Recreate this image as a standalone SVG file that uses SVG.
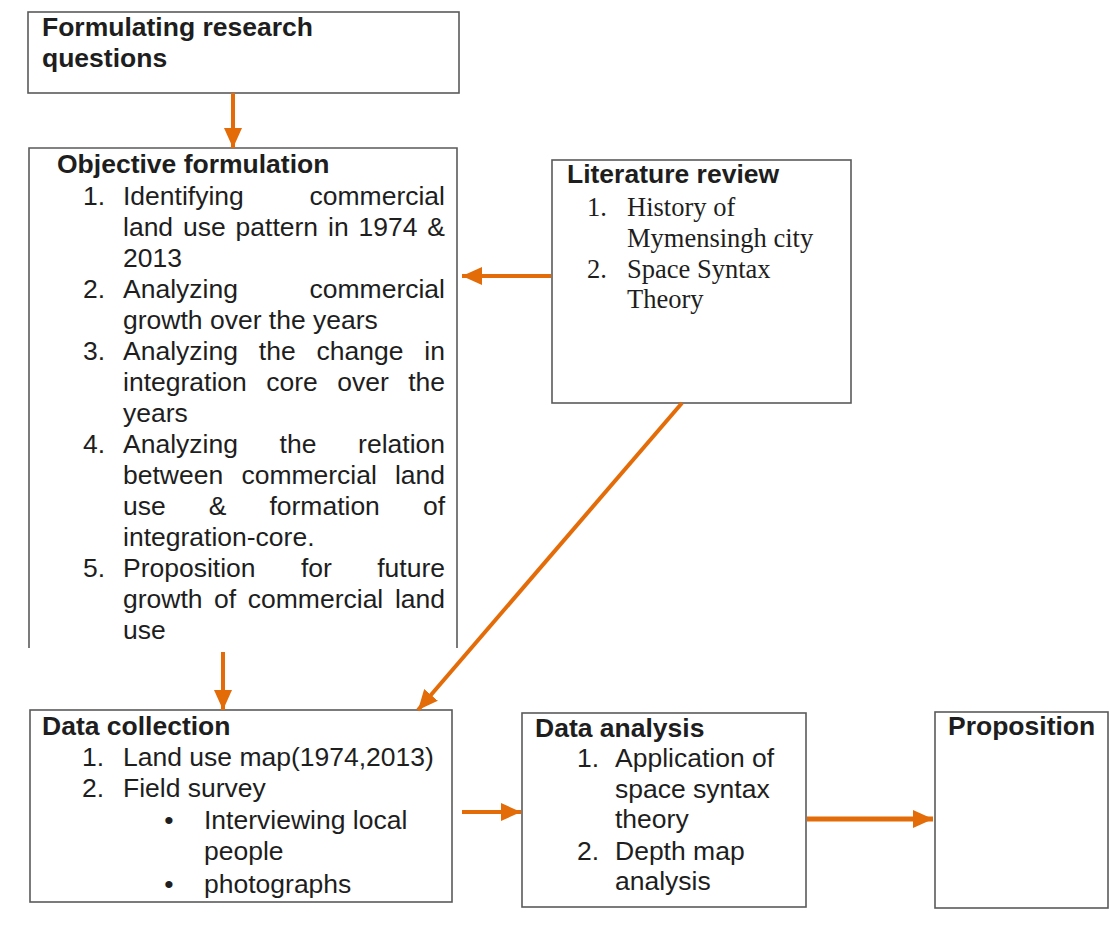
<svg xmlns="http://www.w3.org/2000/svg" width="1109" height="927" viewBox="0 0 1109 927">
<style>
.box{fill:#ffffff;stroke:#5a5a5a;stroke-width:1.6}
.side{fill:none;stroke:#5a5a5a;stroke-width:1.6}
.t{font-family:"Liberation Sans",Arial,sans-serif;font-size:26.5px;fill:#1e1e1e}
.b{font-family:"Liberation Sans",Arial,sans-serif;font-size:26.5px;font-weight:bold;fill:#1e1e1e}
.s{font-family:"Liberation Serif","Times New Roman",serif;font-size:26.5px;fill:#1e1e1e}
.e{text-anchor:end}
.m{text-anchor:middle}
.arr{fill:none;stroke:#E36C09;stroke-width:4;marker-end:url(#ah)}
</style>
<defs>
<marker id="ah" markerUnits="userSpaceOnUse" viewBox="0 0 20 18" refX="20" refY="9" markerWidth="20" markerHeight="18" orient="auto">
<path d="M0,0 L20,9 L0,18 Z" fill="#E36C09"/>
</marker>
</defs>
<rect width="1109" height="927" fill="#ffffff"/>

<g id="research-questions">
<rect class="box" x="28" y="12" width="431" height="81"/>
<text class="b" x="42" y="36">Formulating research</text>
<text class="b" x="42" y="67">questions</text>
</g>

<g id="objective-formulation">
<path class="side" d="M29,648 L29,148 L457,148 L457,648"/>
<text class="b" x="57" y="173">Objective formulation</text>
<text class="t" x="83" y="205">1.</text>
<text class="t" x="123" y="205">Identifying</text>
<text class="t e" x="445" y="205">commercial</text>
<text class="t" x="123" y="236">land</text>
<text class="t" x="183" y="236">use</text>
<text class="t" x="235.6" y="236">pattern</text>
<text class="t" x="328" y="236">in</text>
<text class="t" x="358.5" y="236">1974</text>
<text class="t e" x="445" y="236">&amp;</text>
<text class="t" x="123" y="267">2013</text>
<text class="t" x="83" y="298">2.</text>
<text class="t" x="123" y="298">Analyzing</text>
<text class="t e" x="445" y="298">commercial</text>
<text class="t" x="123" y="329">growth over the years</text>
<text class="t" x="83" y="360">3.</text>
<text class="t" x="123" y="360">Analyzing</text>
<text class="t" x="258.8" y="360">the</text>
<text class="t" x="316.5" y="360">change</text>
<text class="t e" x="445" y="360">in</text>
<text class="t" x="123" y="391">integration</text>
<text class="t" x="266.2" y="391">core</text>
<text class="t" x="337.2" y="391">over</text>
<text class="t e" x="445" y="391">the</text>
<text class="t" x="123" y="422">years</text>
<text class="t" x="83" y="453">4.</text>
<text class="t" x="123" y="453">Analyzing</text>
<text class="t" x="279.6" y="453">the</text>
<text class="t e" x="445" y="453">relation</text>
<text class="t" x="123" y="484">between</text>
<text class="t" x="241.4" y="484">commercial</text>
<text class="t e" x="445" y="484">land</text>
<text class="t" x="123" y="515">use</text>
<text class="t" x="208.7" y="515">&amp;</text>
<text class="t" x="269.4" y="515">formation</text>
<text class="t e" x="445" y="515">of</text>
<text class="t" x="123" y="546">integration-core.</text>
<text class="t" x="83" y="577">5.</text>
<text class="t" x="123" y="577">Proposition</text>
<text class="t" x="301" y="577">for</text>
<text class="t e" x="445" y="577">future</text>
<text class="t" x="123" y="608">growth</text>
<text class="t" x="214.1" y="608">of</text>
<text class="t" x="247.8" y="608">commercial</text>
<text class="t e" x="445" y="608">land</text>
<text class="t" x="123" y="639">use</text>
</g>

<g id="literature-review">
<rect class="box" x="552" y="160" width="299" height="243"/>
<text class="b" x="567" y="183">Literature review</text>
<text class="s" x="587" y="216">1.</text>
<text class="s" x="627" y="216">History of</text>
<text class="s" x="627" y="247">Mymensingh city</text>
<text class="s" x="587" y="278">2.</text>
<text class="s" x="627" y="278">Space Syntax</text>
<text class="s" x="627" y="308">Theory</text>
</g>

<g id="data-collection">
<rect class="box" x="30" y="710" width="422" height="192"/>
<text class="b" x="42" y="735">Data collection</text>
<text class="t" x="82" y="766">1.</text>
<text class="t" x="123" y="766">Land use map(1974,2013)</text>
<text class="t" x="82" y="797">2.</text>
<text class="t" x="123" y="797">Field survey</text>
<text class="t m" x="169" y="829">•</text>
<text class="t" x="204" y="829">Interviewing local</text>
<text class="t" x="204" y="860">people</text>
<text class="t m" x="169" y="893">•</text>
<text class="t" x="204" y="893">photographs</text>
</g>

<g id="data-analysis">
<rect class="box" x="522" y="713" width="284" height="194"/>
<text class="b" x="535" y="737">Data analysis</text>
<text class="t" x="577" y="767">1.</text>
<text class="t" x="615" y="767">Application of</text>
<text class="t" x="615" y="798">space syntax</text>
<text class="t" x="615" y="828">theory</text>
<text class="t" x="577" y="860">2.</text>
<text class="t" x="615" y="860">Depth map</text>
<text class="t" x="615" y="890">analysis</text>
</g>

<g id="proposition">
<rect class="box" x="935" y="712" width="173" height="196"/>
<text class="b" x="948" y="735">Proposition</text>
</g>

<g id="connectors">
<line class="arr" x1="233" y1="93" x2="233" y2="148"/>
<line class="arr" x1="551" y1="276" x2="462" y2="276"/>
<line class="arr" x1="682" y1="403" x2="418" y2="710"/>
<line class="arr" x1="223" y1="652" x2="223" y2="710"/>
<line class="arr" x1="462" y1="812" x2="521" y2="812"/>
<line class="arr" x1="807" y1="819" x2="933" y2="819" style="stroke-width:5"/>
</g>
</svg>
